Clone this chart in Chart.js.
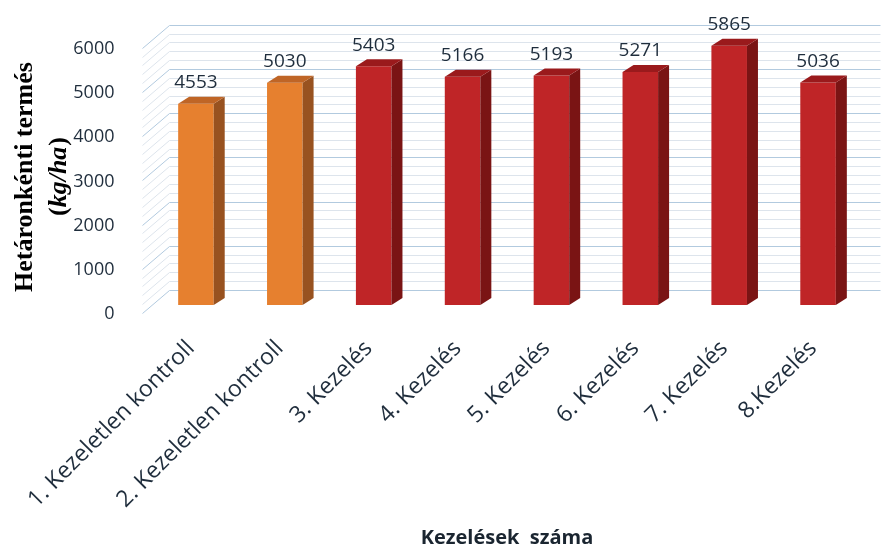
<!DOCTYPE html>
<html lang="hu">
<head>
    <meta charset="UTF-8">
    <title>Hetáronkénti termés</title>
    <script src="https://cdn.jsdelivr.net/npm/chart.js"></script>
    <style>
        body { margin: 0; background: #ffffff; }
    </style>
</head>
<body>
    <canvas id="yieldChart" width="894" height="550"></canvas>
    <script>
        // --- data ---
        const categories = ['1. Kezeletlen kontroll', '2. Kezeletlen kontroll', '3. Kezelés', '4. Kezelés',
                            '5. Kezelés', '6. Kezelés', '7. Kezelés', '8.Kezelés'];
        const yields = [4553, 5030, 5403, 5166, 5193, 5271, 5865, 5036];
        const groups = ['kontroll', 'kontroll', 'kezeles', 'kezeles', 'kezeles', 'kezeles', 'kezeles', 'kezeles'];
        const yMin = 0, yMax = 6000, yStep = 1000, yMinorStep = 200;

        // --- styling ---
        const textColor = '#1f2d3c';
        const faces = {
            kontroll: { front: '#e6802f', side: '#985220', top: '#bf6526' },
            kezeles:  { front: '#bf2527', side: '#7a1414', top: '#9a1a1c' }
        };
        const barDepth = { dx: 11, dy: -7 };     // depth of each bar
        const wallBack = { dx: 18, dy: -15 };    // back wall relative to bar plane
        const wallFront = { dx: -9, dy: 8 };     // front edge of side wall

        // back wall + left wall grid lines (major every 1000, minor every 200)
        const wallPlugin = {
            id: 'wall',
            beforeDatasetsDraw(chart) {
                const { ctx, chartArea: a, scales: { y } } = chart;
                ctx.save();
                ctx.lineWidth = 1;
                for (let v = yMin; v <= yMax; v += yMinorStep) {
                    const py = Math.round(y.getPixelForValue(v)) + 0.5;
                    ctx.strokeStyle = v % yStep === 0 ? '#b2cadf' : '#dde4ec';
                    ctx.beginPath();
                    ctx.moveTo(a.left + wallFront.dx, py + wallFront.dy);
                    ctx.lineTo(a.left + wallBack.dx, py + wallBack.dy);
                    ctx.lineTo(a.right + wallBack.dx, py + wallBack.dy);
                    ctx.stroke();
                }
                ctx.restore();
            }
        };

        // side and top faces for the bars, plus value labels
        const bar3dPlugin = {
            id: 'bar3d',
            afterDatasetsDraw(chart) {
                const { ctx } = chart;
                const values = chart.data.datasets[0].data;
                const { dx, dy } = barDepth;
                ctx.save();
                chart.getDatasetMeta(0).data.forEach((bar, i) => {
                    const c = faces[groups[i]];
                    const { x, y, base, width } = bar.getProps(['x', 'y', 'base', 'width'], true);
                    const l = x - width / 2, r = x + width / 2;

                    ctx.fillStyle = c.side;
                    ctx.beginPath();
                    ctx.moveTo(r, y);
                    ctx.lineTo(r + dx, y + dy);
                    ctx.lineTo(r + dx, base + dy);
                    ctx.lineTo(r, base);
                    ctx.closePath();
                    ctx.fill();

                    ctx.fillStyle = c.top;
                    ctx.beginPath();
                    ctx.moveTo(l, y);
                    ctx.lineTo(l + dx, y + dy);
                    ctx.lineTo(r + dx, y + dy);
                    ctx.lineTo(r, y);
                    ctx.closePath();
                    ctx.fill();

                    ctx.fillStyle = textColor;
                    ctx.font = '19px "Open Sans"';
                    ctx.textAlign = 'center';
                    ctx.textBaseline = 'middle';
                    ctx.fillText(String(values[i]), x, y - 21);
                });
                ctx.restore();
            }
        };

        // y title: bold first line, italic unit line
        const yTitlePlugin = {
            id: 'yTitle',
            afterDraw(chart) {
                const { ctx } = chart;
                ctx.save();
                ctx.translate(25, 177);
                ctx.rotate(-Math.PI / 2);
                ctx.fillStyle = '#000000';
                ctx.textBaseline = 'middle';
                ctx.textAlign = 'center';
                ctx.font = 'bold 26px "Liberation Serif"';
                ctx.fillText('Hetáronkénti termés', 0, 0);

                // second line: "(" + italic "kg/ha" + ")"
                const upright = 'bold 26px "Liberation Serif"';
                const italic = 'bold italic 26px "Liberation Serif"';
                ctx.font = upright;
                const wOpen = ctx.measureText('(').width;
                const wClose = ctx.measureText(')').width;
                ctx.font = italic;
                const wUnit = ctx.measureText('kg/ha').width;
                let sx = -(wOpen + wUnit + wClose) / 2;
                ctx.textAlign = 'left';
                ctx.font = upright;
                ctx.fillText('(', sx, 34);
                ctx.font = italic;
                ctx.fillText('kg/ha', sx + wOpen, 34);
                ctx.font = upright;
                ctx.fillText(')', sx + wOpen + wUnit + 1, 34);
                ctx.restore();
            }
        };

        const ctx = document.getElementById('yieldChart').getContext('2d');
        new Chart(ctx, {
            type: 'bar',
            data: {
                labels: categories,
                datasets: [{
                    data: yields,
                    backgroundColor: groups.map(g => faces[g].front),
                    borderWidth: 0,
                    barPercentage: 0.4,
                    categoryPercentage: 1.0
                }]
            },
            options: {
                responsive: false,
                animation: false,
                devicePixelRatio: 1,
                layout: { padding: { top: 37, right: 31.5, left: 0, bottom: 0 } },
                plugins: {
                    legend: { display: false },
                    tooltip: { enabled: false }
                },
                scales: {
                    x: {
                        grid: { display: false },
                        border: { display: false },
                        ticks: {
                            autoSkip: false,
                            minRotation: 45,
                            maxRotation: 45,
                            padding: 22,
                            labelOffset: -5,
                            color: textColor,
                            font: { family: 'Open Sans', size: 23 }
                        },
                        title: {
                            display: true,
                            text: 'Kezelések  száma',
                            color: '#1a2530',
                            font: { family: 'Open Sans', size: 20, weight: 'bold' },
                            padding: 0
                        },
                        afterFit(scale) { scale.height = 245; }
                    },
                    y: {
                        min: yMin,
                        max: yMax,
                        grid: { display: false },
                        border: { display: false },
                        ticks: {
                            stepSize: yStep,
                            padding: 29,
                            labelOffset: 9,
                            color: textColor,
                            font: { family: 'Open Sans', size: 18 },
                            callback: (value) => String(value)
                        },
                        afterFit(scale) { scale.width = 151.5; }
                    }
                }
            },
            plugins: [wallPlugin, bar3dPlugin, yTitlePlugin]
        });
    </script>
</body>
</html>
